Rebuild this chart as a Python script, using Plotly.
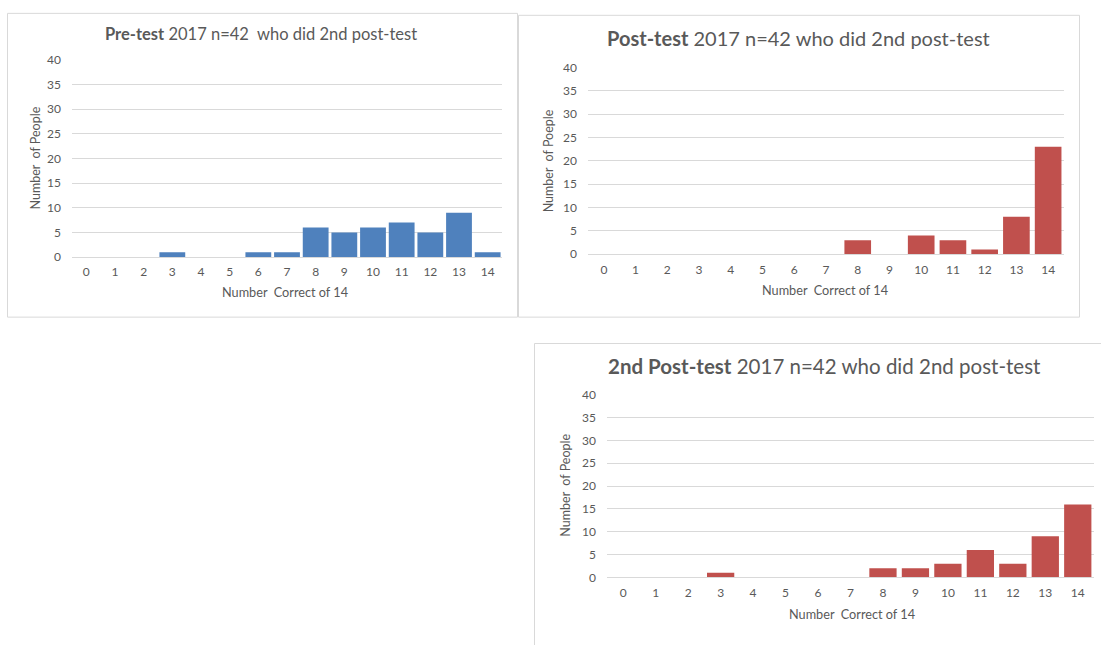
import plotly.graph_objects as go

scores = list(range(15))
pre_test = [0, 0, 0, 1, 0, 0, 1, 1, 6, 5, 6, 7, 5, 9, 1]
post_test = [0, 0, 0, 0, 0, 0, 0, 0, 3, 0, 4, 3, 1, 8, 23]
post_test2 = [0, 0, 0, 1, 0, 0, 0, 0, 2, 2, 3, 6, 3, 9, 16]

titles = ["<b>Pre-test</b> 2017 n=42  who did 2nd post-test",
          "<b>Post-test</b> 2017 n=42 who did 2nd post-test",
          "<b>2nd Post-test</b> 2017 n=42 who did 2nd post-test"]
x_title = "Number  Correct of 14"
y_titles = ["Number  of People", "Number  of Poeple", "Number  of People"]

BLUE = "#4F81BD"
RED = "#C0504D"
GRID = "#D9D9D9"
TXT = "#595959"
FONT = "Lato, 'Open Sans', sans-serif"

W, H = 1101, 645
def px(x): return x / W
def py(y): return 1 - y / H

fig = go.Figure()
fig.add_trace(go.Bar(x=scores, y=pre_test, marker=dict(color=BLUE, line=dict(width=0)),
                     width=0.9, xaxis="x", yaxis="y", showlegend=False))
fig.add_trace(go.Bar(x=scores, y=post_test, marker=dict(color=RED, line=dict(width=0)),
                     width=0.84, xaxis="x2", yaxis="y2", showlegend=False))
fig.add_trace(go.Bar(x=scores, y=post_test2, marker=dict(color=RED, line=dict(width=0)),
                     width=0.84, xaxis="x3", yaxis="y3", showlegend=False))

# plot areas (pixels): x0, x1, ytop, ybottom
areas = [(72, 502, 53, 255), (588, 1064, 61, 252), (607, 1094, 396, 583)]
layout = {}
for i, (x0, x1, yt, yb) in enumerate(areas):
    sfx = "" if i == 0 else str(i + 1)
    layout["xaxis" + sfx] = dict(
        domain=[px(x0), px(x1)], anchor="y" + sfx, range=[-0.5, 14.5],
        tickmode="array", tickvals=scores, ticktext=[str(s) for s in scores],
        showgrid=False, zeroline=False, showline=True, linecolor=GRID, linewidth=1,
        ticks="", ticklabelstandoff=4,
        tickfont=dict(family=FONT, size=12, color=TXT), fixedrange=True)
    layout["yaxis" + sfx] = dict(
        domain=[py(yb), py(yt)], anchor="x" + sfx, range=[0, 40],
        tickmode="linear", tick0=0, dtick=5, showgrid=True, gridcolor=GRID, gridwidth=1,
        zeroline=False, showline=False, ticks="", ticklabelstandoff=10,
        tickfont=dict(family=FONT, size=12, color=TXT), fixedrange=True)

annotations = []
# titles: (center x, center y, size)
title_pos = [(261, 27, 16.5), (798, 31, 20), (824, 367, 20.5)]
for t, (cx, cy, s) in zip(titles, title_pos):
    annotations.append(dict(text=t, x=px(cx), y=py(cy), xref="paper", yref="paper",
                            xanchor="center", yanchor="middle", showarrow=False,
                            font=dict(family=FONT, size=s, color=TXT)))
xt_pos = [(285, 291), (825, 289), (852, 620)]
for (cx, cy) in xt_pos:
    annotations.append(dict(text=x_title, x=px(cx), y=py(cy), xref="paper", yref="paper",
                            xanchor="center", yanchor="middle", showarrow=False,
                            font=dict(family=FONT, size=12.7, color=TXT)))
yt_pos = [(35, 154), (548, 157), (566, 489)]
for yt, (cx, cy) in zip(y_titles, yt_pos):
    annotations.append(dict(text=yt, x=px(cx), y=py(cy), xref="paper", yref="paper",
                            xanchor="center", yanchor="middle", showarrow=False, textangle=-90,
                            font=dict(family=FONT, size=12.5, color=TXT)))

shapes = [
    dict(type="rect", xref="paper", yref="paper", x0=px(7.5), x1=px(517.5), y0=py(316.5), y1=py(5.5),
         line=dict(color=GRID, width=1), layer="below"),
    dict(type="rect", xref="paper", yref="paper", x0=px(518.5), x1=px(1079.5), y0=py(316.5), y1=py(7.5),
         line=dict(color=GRID, width=1), layer="below"),
    dict(type="rect", xref="paper", yref="paper", x0=px(534.5), x1=px(1110), y0=py(660), y1=py(343.5),
         line=dict(color=GRID, width=1), layer="below"),
]

fig.update_layout(
    width=W, height=H, margin=dict(l=0, r=0, t=0, b=0),
    paper_bgcolor="white", plot_bgcolor="white",
    annotations=annotations, shapes=shapes, showlegend=False, **layout)

fig.write_html("out.html")
